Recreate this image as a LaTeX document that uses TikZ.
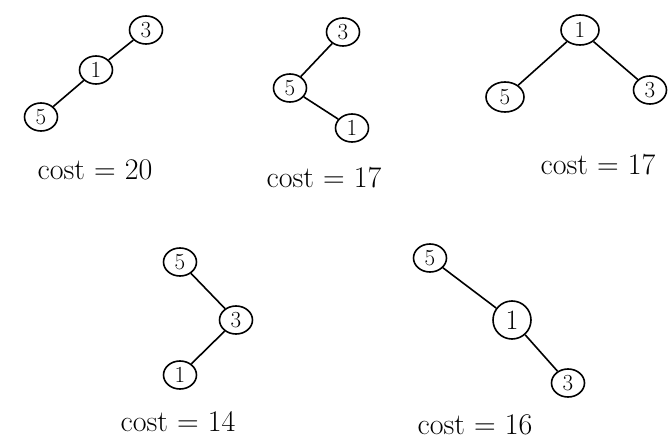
\documentclass[tikz,border=0pt]{standalone}
\usetikzlibrary{shapes.geometric}
\begin{document}
\begin{tikzpicture}[x=1pt,y=-1pt,
  tn/.style={draw,ellipse,line width=1.6pt,minimum width=33pt,minimum height=28pt,inner sep=0pt,font=\fontsize{23}{24}\selectfont},
  big/.style={minimum width=38pt,minimum height=38pt,font=\fontsize{28}{30}\selectfont},
  edge/.style={line width=1.6pt},
  lbl/.style={font=\fontsize{30}{32}\selectfont}]
\useasboundingbox (0,0) rectangle (670,444);
% tree 1
\node[tn] (a3) at (146,30) {3};
\node[tn] (a1) at (96,70) {1};
\node[tn] (a5) at (41,117) {5};
\draw[edge] (a3) -- (a1);
\draw[edge] (a1) -- (a5);
\node[lbl] (c1) at (95,170) {cost = 20};
% tree 2
\node[tn] (b3) at (343,32) {3};
\node[tn] (b5) at (290,88) {5};
\node[tn] (b1) at (352,128) {1};
\draw[edge] (b3) -- (b5);
\draw[edge] (b5) -- (b1);
\node[lbl] (c2) at (324,178) {cost = 17};
% tree 3
\node[tn,minimum width=38pt,minimum height=30pt] (d1) at (580,30) {1};
\node[tn,minimum width=38pt,minimum height=30pt] (d5) at (505,97) {5};
\node[tn] (d3) at (650,90) {3};
\draw[edge] (d1) -- (d5);
\draw[edge] (d1) -- (d3);
\node[lbl] (c3) at (598,165) {cost = 17};
% tree 4
\node[tn] (e5) at (180,262) {5};
\node[tn] (e3) at (236,320) {3};
\node[tn] (e1) at (180,375) {1};
\draw[edge] (e5) -- (e3);
\draw[edge] (e3) -- (e1);
\node[lbl] (c4) at (178,422) {cost = 14};
% tree 5
\node[tn] (f5) at (430,258) {5};
\node[tn,big] (f1) at (512,320) {1};
\node[tn] (f3) at (568,383) {3};
\draw[edge] (f5) -- (f1);
\draw[edge] (f1) -- (f3);
\node[lbl] (c5) at (475,425) {cost = 16};
\end{tikzpicture}
\end{document}
